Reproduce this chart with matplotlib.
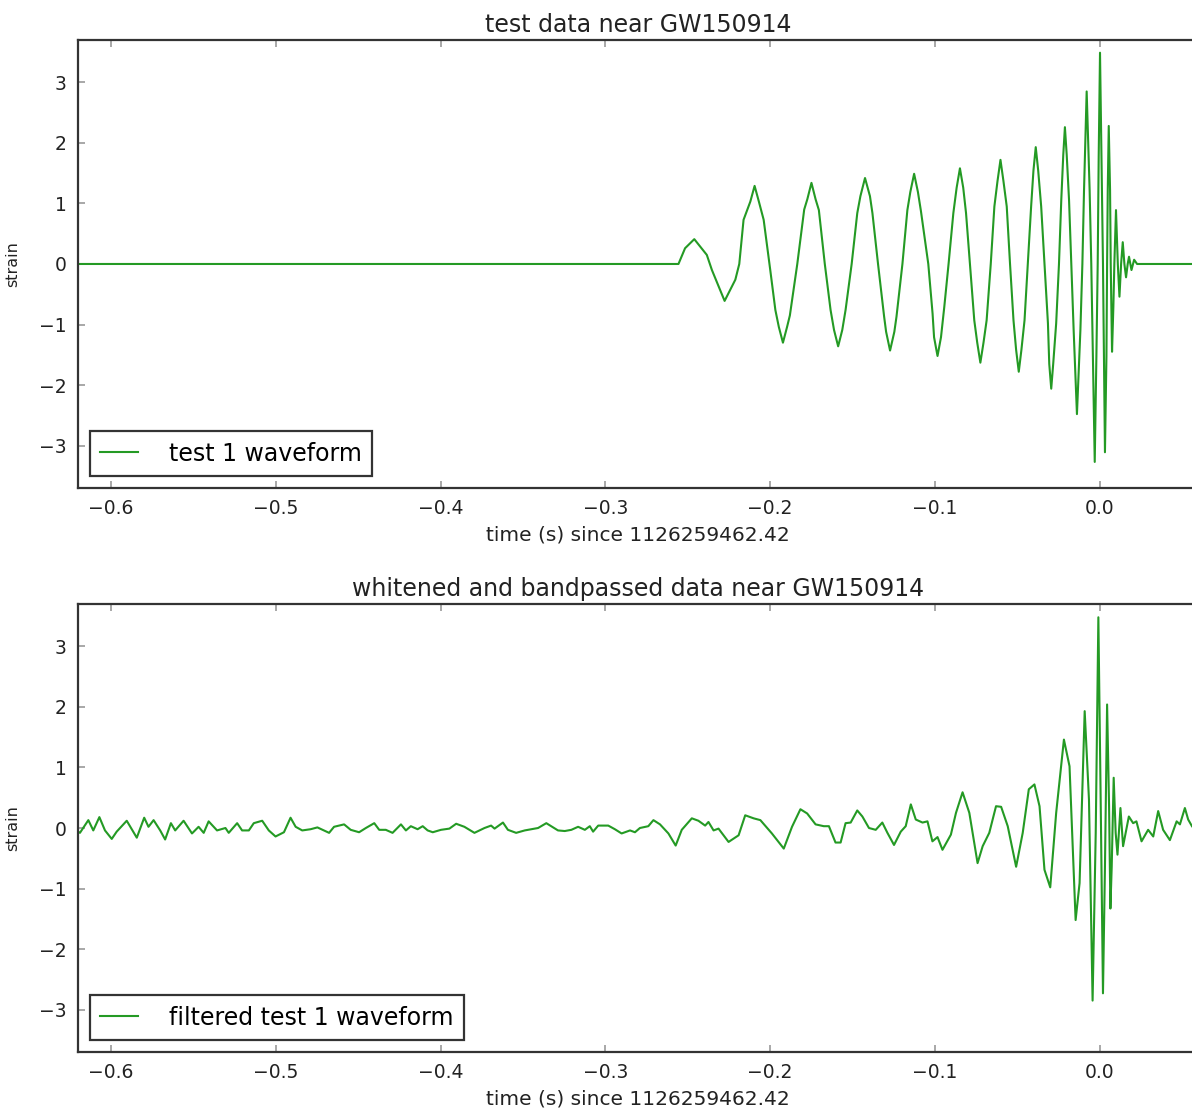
#!/usr/bin/env python
# coding: utf-8

import matplotlib
matplotlib.use('Agg')
import matplotlib.pyplot as plt

# template waveform (time since event, strain), roughly one half-cycle per row
t_test = [-0.62, -0.2556, -0.2516, -0.246, -0.2384, -0.2353, -0.2276, -0.2211, -0.2187,
          -0.2161, -0.2120, -0.2094, -0.2068, -0.2039, -0.1999,
          -0.1968, -0.1947, -0.1922, -0.1897, -0.1880, -0.1835,
          -0.1793, -0.1774, -0.1749, -0.1724, -0.1704, -0.1668,
          -0.1633, -0.1612, -0.1587, -0.1562, -0.1542, -0.1505,
          -0.1471, -0.1452, -0.1424, -0.1394, -0.1379, -0.1345,
          -0.1308, -0.1296, -0.1272, -0.1246, -0.1233, -0.1197,
          -0.1167, -0.1149, -0.1126, -0.1103, -0.1085, -0.1040,
          -0.1014, -0.1005, -0.0984, -0.0963, -0.0943, -0.0917,
          -0.0888, -0.0868, -0.0848, -0.0828, -0.0811, -0.0787,
          -0.0761, -0.0743, -0.0724, -0.0705, -0.0686, -0.0661,
          -0.0639, -0.0620, -0.0602, -0.0584, -0.0564, -0.0544,
          -0.0523, -0.0507, -0.0491, -0.0475, -0.0456, -0.0436,
          -0.0416, -0.0402, -0.0388, -0.0373, -0.0355, -0.0335,
          -0.0314, -0.0306, -0.0294, -0.0282, -0.0264, -0.0247,
          -0.0233, -0.0221, -0.0211, -0.0200, -0.0186, -0.0172,
          -0.0158, -0.0138, -0.0117, -0.0105,
          -0.0095, -0.0079, -0.0061, -0.0051,
          -0.0041, -0.0030, -0.0020, -0.0012,
          -0.0006, 0.0002, 0.0012, 0.0020,
          0.0026, 0.0032, 0.0041, 0.0045,
          0.0049, 0.0055, 0.0063, 0.0067,
          0.0071, 0.0075, 0.0083, 0.0089,
          0.0099, 0.0110, 0.0120, 0.0130, 0.0140, 0.0150, 0.0160, 0.0170,
          0.0178, 0.0193, 0.0209, 0.0227, 0.06]
h_test = [0.0, 0.0, 0.26, 0.41, 0.15, -0.10, -0.61, -0.26, 0.0,
          0.73, 1.03, 1.29, 1.03, 0.73, -0.10,
          -0.76, -1.04, -1.30, -1.04, -0.85, 0.0,
          0.90, 1.07, 1.34, 1.07, 0.89, 0.0,
          -0.76, -1.09, -1.36, -1.09, -0.76, 0.0,
          0.84, 1.12, 1.42, 1.12, 0.84, 0.0,
          -0.87, -1.12, -1.43, -1.12, -0.87, 0.0,
          0.89, 1.19, 1.49, 1.19, 0.88, 0.0,
          -0.82, -1.21, -1.52, -1.21, -0.71, 0.0,
          0.84, 1.26, 1.58, 1.26, 0.84, 0.0,
          -0.93, -1.30, -1.63, -1.30, -0.93, 0.0,
          0.95, 1.37, 1.72, 1.37, 0.95, 0.0,
          -0.93, -1.42, -1.78, -1.42, -0.93, 0.0,
          0.95, 1.54, 1.93, 1.54, 0.95, 0.0,
          -0.98, -1.65, -2.06, -1.65, -0.98, 0.0,
          1.06, 1.80, 2.26, 1.80, 1.06, 0.0,
          -1.09, -2.48, -1.09, 0.0,
          1.22, 2.85, 1.22, 0.0,
          -1.53, -3.27, -1.53, 0.0,
          1.77, 3.49, 1.50, 0.0,
          -1.53, -3.11, -1.53, 0.0,
          1.22, 2.28, 1.22, 0.0,
          -0.71, -1.45, -0.71, 0.0,
          0.89, 0.0, -0.54, 0.0, 0.36, 0.0, -0.22, 0.0,
          0.12, -0.10, 0.07, 0.0, 0.0]

# whitened + bandpassed waveform, 6 samples per row
t_filt = [-0.6228, -0.6188, -0.6137, -0.6107, -0.6070, -0.6036,
          -0.5995, -0.5965, -0.5904, -0.5843, -0.5798, -0.5772,
          -0.5741, -0.5701, -0.5671, -0.5636, -0.5610, -0.5559,
          -0.5508, -0.5468, -0.5437, -0.5407, -0.5356, -0.5305,
          -0.5285, -0.5234, -0.5204, -0.5163, -0.5133, -0.5082,
          -0.5042, -0.5001, -0.4950, -0.4910, -0.4879, -0.4839,
          -0.4788, -0.4747, -0.4676, -0.4646, -0.4585, -0.4545,
          -0.4494, -0.4453, -0.4402, -0.4372, -0.4332, -0.4291,
          -0.4240, -0.4210, -0.4180, -0.4139, -0.4108, -0.4078,
          -0.4047, -0.3997, -0.3946, -0.3905,
          -0.3855, -0.3794, -0.3733, -0.3693, -0.3672, -0.3621,
          -0.3591, -0.3541, -0.3489, -0.3408, -0.3358, -0.3287,
          -0.3246, -0.3206, -0.3165, -0.3124, -0.3094, -0.3074,
          -0.3043, -0.2982, -0.2942, -0.2901, -0.2850, -0.2820,
          -0.2790, -0.2739, -0.2708, -0.2668, -0.2617, -0.2573,
          -0.2536, -0.2475, -0.2435, -0.2394, -0.2374, -0.2343,
          -0.2313, -0.2252, -0.2191, -0.2151, -0.2100, -0.2059,
          -0.1989, -0.1917, -0.1867, -0.1816, -0.1775, -0.1724,
          -0.1674, -0.1643, -0.1603, -0.1572, -0.1542, -0.1511,
          -0.1471, -0.1440, -0.1400, -0.1359, -0.1319, -0.1288,
          -0.1248, -0.1207, -0.1177, -0.1146, -0.1116, -0.1075,
          -0.1045, -0.1015, -0.0984, -0.0954, -0.0903, -0.0872,
          -0.0832, -0.0791, -0.0741, -0.0710, -0.0670, -0.0629,
          -0.0598, -0.0558, -0.0507, -0.0467, -0.0430, -0.0396,
          -0.0365, -0.0335, -0.0300, -0.0264, -0.0217, -0.0183,
          -0.0146, -0.0122, -0.0091, -0.0065, -0.0043, -0.0024,
          -0.0008, 0.0006, 0.0020, 0.0032, 0.0045, 0.0057,
          0.0065, 0.0073, 0.0085, 0.0097, 0.0108, 0.0126,
          0.0142, 0.0177, 0.0203, 0.0223, 0.0254, 0.0294,
          0.0325, 0.0355, 0.0385, 0.0426, 0.0467, 0.0487,
          0.0517, 0.0537, 0.0560]
h_filt = [-0.01, -0.08, 0.13, -0.04, 0.18, -0.04,
          -0.18, -0.06, 0.12, -0.16, 0.17, 0.02,
          0.13, -0.04, -0.19, 0.08, -0.04, 0.12,
          -0.09, 0.02, -0.08, 0.11, -0.04, 0.0,
          -0.08, 0.08, -0.04, -0.04, 0.08, 0.12,
          -0.04, -0.14, -0.07, 0.17, 0.02, -0.04,
          -0.02, 0.01, -0.08, 0.02, 0.06, -0.03,
          -0.07, 0.0, 0.08, -0.03, -0.03, -0.08,
          0.06, -0.04, 0.03, -0.02, 0.03, -0.04,
          -0.07, -0.03, -0.01, 0.07,
          0.02, -0.08, 0.0, 0.04, -0.01, 0.09,
          -0.03, -0.08, -0.04, 0.0, 0.08, -0.04,
          -0.05, -0.03, 0.02, -0.03, 0.03, -0.06,
          0.04, 0.04, -0.02, -0.09, -0.04, -0.07,
          0.0, 0.03, 0.13, 0.06, -0.09, -0.29,
          -0.03, 0.16, 0.12, 0.04, 0.10, -0.04,
          -0.01, -0.23, -0.12, 0.21, 0.16, 0.13,
          -0.09, -0.34, 0.02, 0.31, 0.24, 0.06,
          0.03, 0.03, -0.24, -0.24, 0.08, 0.09,
          0.29, 0.19, 0.0, -0.03, 0.09, -0.08,
          -0.28, -0.06, 0.03, 0.39, 0.14, 0.09,
          0.11, -0.22, -0.15, -0.36, -0.11, 0.25,
          0.59, 0.25, -0.58, -0.30, -0.08, 0.36,
          0.35, 0.03, -0.64, -0.08, 0.64, 0.72,
          0.36, -0.69, -0.98, 0.25, 1.46, 1.02,
          -1.52, -0.91, 1.93, 0.47, -2.85, -0.08,
          3.48, 0.47, -2.73, -0.64, 2.04, 0.36,
          -1.33, -0.64, 0.83, -0.08, -0.44, 0.33,
          -0.30, 0.19, 0.08, 0.11, -0.22, -0.03,
          -0.14, 0.28, -0.03, -0.20, 0.11, 0.06,
          0.33, 0.14, 0.03]

xlims = (-0.62, 0.06)
ylims = (-3.7, 3.7)
xlabel = 'time (s) since 1126259462.42'

plt.rcParams['font.family'] = 'DejaVu Sans'
plt.rcParams['xtick.direction'] = 'in'
plt.rcParams['ytick.direction'] = 'in'
plt.rcParams['xtick.top'] = True
plt.rcParams['ytick.right'] = True

fig = plt.figure(figsize=(11.92, 11.08), dpi=100)
ax1 = fig.add_axes([0.0654, 0.5596, 0.9401, 0.4043])
ax2 = fig.add_axes([0.0654, 0.0505, 0.9401, 0.4044])


def draw_panel(ax, t, h, label, title):
    ax.plot(t, h, color='#249a24', lw=1.5, label=label,
            solid_joinstyle='round')
    ax.set_xlim(*xlims)
    ax.set_ylim(*ylims)
    ax.set_title(title, fontsize=17, color='#222222', pad=6)
    ax.set_xlabel(xlabel, fontsize=14.5, color='#222222', labelpad=5)
    ax.set_ylabel('strain', fontsize=11.5, color='#222222', labelpad=14)
    ax.tick_params(labelsize=13.5, colors='#999999', labelcolor='#222222',
                   length=5, width=1.2, pad=8)
    for s in ax.spines.values():
        s.set_linewidth(1.6)
        s.set_color('#333333')
    leg = ax.legend(loc='lower left', fontsize=17, fancybox=False,
                    framealpha=1, borderaxespad=0.5, handlelength=1.6,
                    handletextpad=1.3, borderpad=0.45)
    leg.get_frame().set_edgecolor('#333333')
    leg.get_frame().set_linewidth(1.6)


draw_panel(ax1, t_test, h_test, 'test 1 waveform', 'test data near GW150914')
draw_panel(ax2, t_filt, h_filt, 'filtered test 1 waveform',
           'whitened and bandpassed data near GW150914')

fig.savefig('out.png', dpi=100, facecolor='white')
